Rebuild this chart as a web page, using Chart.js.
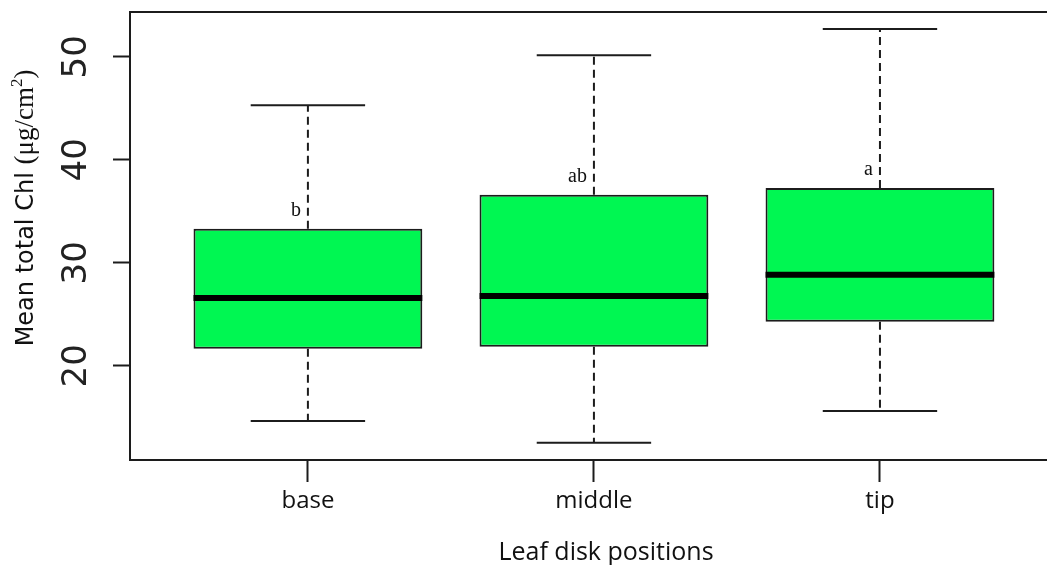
<!DOCTYPE html>
<html><head><meta charset="utf-8">
<script src="https://cdn.jsdelivr.net/npm/chart.js@4.4.1/dist/chart.umd.min.js"></script>
<style>html,body{margin:0;padding:0;background:#fff;overflow:hidden}#wrap{width:1047px;height:565px;position:relative}</style>
</head><body><div id="wrap"><canvas id="c" width="1047" height="565"></canvas></div>
<script>
const categories = ['base', 'middle', 'tip'];
const whiskerLow = [14.63, 12.52, 15.6];
const q1 = [21.65, 21.84, 24.27];
const medians = [26.57, 26.77, 28.83];
const q3 = [33.3, 36.6, 37.25];
const whiskerHigh = [45.3, 50.15, 52.69];
const groupLetters = ['b', 'ab', 'a'];
const yTicks = [20, 30, 40, 50];
const yTitleMain = 'Mean total Chl ';
const yTitleUnit = ['(\u03bcg/cm', '2', ')'];
const xTitle = 'Leaf disk positions';

const INK = '#1c1c1c';

const boxParts = {
  id: 'boxParts',
  afterDatasetsDraw(chart) {
    const {ctx, scales: {x, y}, chartArea: a} = chart;
    const bars = chart.getDatasetMeta(0).data;
    ctx.save();
    ctx.strokeStyle = INK;
    ctx.lineWidth = 2;
    ctx.beginPath(); ctx.moveTo(a.left, a.top); ctx.lineTo(a.right, a.top); ctx.stroke();
    categories.forEach((c, i) => {
      const cx = x.getPixelForValue(i + 1);
      const capL = x.getPixelForValue(i + 1 - 0.2), capR = x.getPixelForValue(i + 1 + 0.2);
      ctx.lineWidth = 2;
      ctx.strokeStyle = INK;
      ctx.setLineDash([8, 5]);
      ctx.beginPath();
      ctx.moveTo(cx, y.getPixelForValue(q3[i])); ctx.lineTo(cx, y.getPixelForValue(whiskerHigh[i]));
      ctx.moveTo(cx, y.getPixelForValue(q1[i])); ctx.lineTo(cx, y.getPixelForValue(whiskerLow[i]));
      ctx.stroke();
      ctx.setLineDash([]);
      ctx.beginPath();
      ctx.moveTo(capL, y.getPixelForValue(whiskerHigh[i])); ctx.lineTo(capR, y.getPixelForValue(whiskerHigh[i]));
      ctx.moveTo(capL, y.getPixelForValue(whiskerLow[i])); ctx.lineTo(capR, y.getPixelForValue(whiskerLow[i]));
      ctx.stroke();
      const b = bars[i];
      ctx.lineWidth = 6;
      ctx.strokeStyle = '#000';
      ctx.beginPath();
      ctx.moveTo(b.x - b.width / 2, y.getPixelForValue(medians[i]));
      ctx.lineTo(b.x + b.width / 2, y.getPixelForValue(medians[i]));
      ctx.stroke();
      ctx.fillStyle = '#111';
      ctx.font = '20px "Liberation Serif"';
      ctx.textAlign = 'right';
      ctx.textBaseline = 'alphabetic';
      ctx.fillText(groupLetters[i], cx - 7, y.getPixelForValue(q3[i]) - 13);
    });
    ctx.restore();
  },
  afterDraw(chart) {
    const ctx = chart.ctx;
    ctx.save();
    ctx.fillStyle = '#111';
    const sansF = '24px "DejaVu Sans"';
    const serifF = '27px "Liberation Serif"';
    const supF = '17px "Liberation Serif"';
    ctx.font = sansF; const w1 = ctx.measureText(yTitleMain).width;
    ctx.font = serifF; const w2 = ctx.measureText(yTitleUnit[0]).width; const w4 = ctx.measureText(yTitleUnit[2]).width;
    ctx.font = supF; const w3 = ctx.measureText(yTitleUnit[1]).width;
    const total = w1 + w2 + w3 + w4;
    ctx.translate(33, 208 + total / 2);
    ctx.rotate(-Math.PI / 2);
    ctx.textAlign = 'left'; ctx.textBaseline = 'alphabetic';
    let p = 0;
    ctx.font = sansF; ctx.fillText(yTitleMain, p, 0); p += w1;
    ctx.font = serifF; ctx.fillText(yTitleUnit[0], p, 0); p += w2;
    ctx.font = supF; ctx.fillText(yTitleUnit[1], p, -11); p += w3;
    ctx.font = serifF; ctx.fillText(yTitleUnit[2], p, 0);
    ctx.restore();
    ctx.save();
    ctx.fillStyle = '#111';
    ctx.font = '25px "Open Sans"';
    ctx.textAlign = 'center'; ctx.textBaseline = 'alphabetic';
    ctx.fillText(xTitle, 606, 560);
    ctx.restore();
  }
};

new Chart(document.getElementById('c'), {
  type: 'bar',
  data: {
    datasets: [{
      data: categories.map((c, i) => ({x: i + 1, y: [q1[i], q3[i]]})),
      backgroundColor: '#00f752',
      borderColor: INK,
      borderWidth: 2,
      borderSkipped: false,
      barPercentage: 0.8,
      categoryPercentage: 1
    }]
  },
  options: {
    responsive: false,
    animation: false,
    devicePixelRatio: 1,
    layout: {padding: {left: 0, top: 12, right: 0, bottom: 0}},
    plugins: {legend: {display: false}, tooltip: {enabled: false}, title: {display: false}},
    scales: {
      x: {
        type: 'linear', position: 'bottom', min: 0.378, max: 3.584, offset: false,
        afterBuildTicks(s) { s.ticks = categories.map((c, i) => ({value: i + 1})); },
        afterFit(s) { s.height = 105; s.paddingLeft = 0; s.paddingRight = 0; },
        ticks: {autoSkip: false, maxRotation: 0, minRotation: 0, padding: 5, color: '#111',
          font: {family: 'Open Sans', size: 24},
          callback: (v) => categories[v - 1] ?? ''},
        grid: {offset: false, drawOnChartArea: false, drawTicks: true, tickLength: 22, tickWidth: 2, tickColor: INK},
        border: {display: true, color: INK, width: 2}
      },
      y: {
        type: 'linear', position: 'left', min: 10.85, max: 54.35,
        afterBuildTicks(s) { s.ticks = yTicks.map(v => ({value: v})); },
        afterFit(s) { s.width = 130; s.paddingTop = 0; s.paddingBottom = 0; },
        ticks: {minRotation: 90, maxRotation: 90, padding: 14, crossAlign: 'center', color: '#222',
          font: {family: 'DejaVu Sans', size: 34}},
        grid: {drawOnChartArea: false, drawTicks: true, tickLength: 17, tickWidth: 2, tickColor: INK},
        border: {display: true, color: INK, width: 2}
      }
    }
  },
  plugins: [boxParts]
});
</script></body></html>
